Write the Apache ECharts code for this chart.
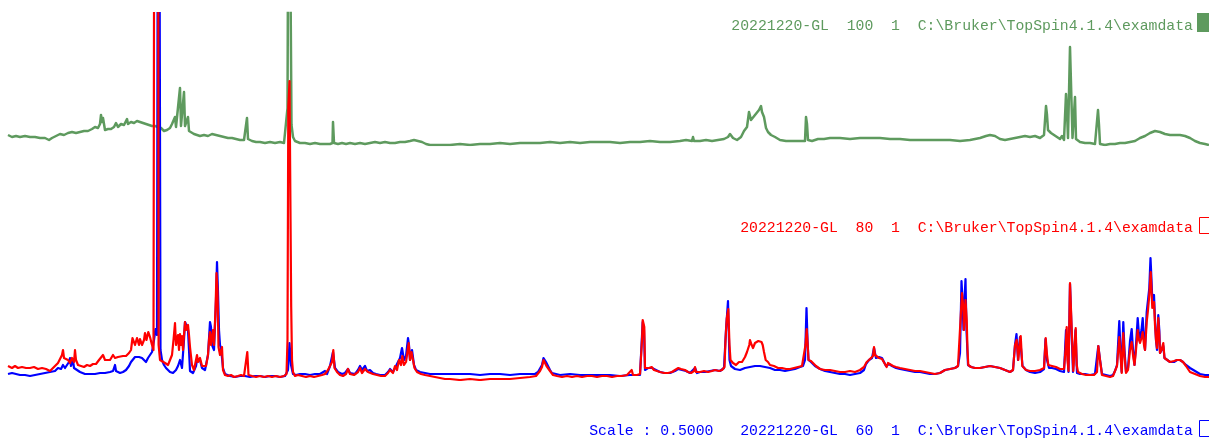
<!DOCTYPE html>
<html>
<head>
<meta charset="utf-8">
<script src="https://cdn.jsdelivr.net/npm/echarts@6/dist/echarts.min.js"></script>
<style>
html,body{margin:0;padding:0;background:#fff;}
#chart{width:1209px;height:439px;}
</style>
</head>
<body>
<div id="chart"></div>
<script>
// Stacked 1H spectra: experiment 100 (top), experiments 80 and 60 overlaid (bottom).
// Each point is [position along the shift axis, intensity in arbitrary units].

const exp100 = [
[8,10],[12,8],[16,9],[20,8],[25,9],[30,8],[35,8],[40,7],[45,7],[49,5],[52,7],[56,9],[60,11],[64,10],[68,12],[72,13],[76,12],[80,13],[84,14],[88,14],[92,16],[95,18],[98,17],[100,21],[101,30],[102,23],[103,27],[105,15],[108,16],[111,16],[114,18],[116,22],[118,18],[121,21],[124,20],[127,26],[128,21],[131,23],[134,22],[137,24],[140,23],[143,22],[146,21],[149,20],[152,19],[155,19],[158,18],[161,17],[164,14],[167,15],[170,17],[172,21],[174,19],[175,28],[176,18],[178,17],[180,57],[181,19],[183,18],[184,53],[185,19],[187,17],[188,28],[189,14],[191,12],[194,11],[197,10],[200,9],[204,10],[208,9],[212,11],[216,10],[220,9],[224,8],[228,7],[232,7],[236,6],[240,5],[244,5],[246,6],[247,27],[248,6],[252,4],[256,3],[260,3],[265,2],[270,3],[275,2],[280,3],[284,2],[286,1],[287.5,37],[288.8,400],[290.4,400],[291.5,20],[293,8],[295,4],[300,2],[305,2],[310,1],[315,2],[320,1],[325,1],[330,1],[332.5,2],[333,23],[334,2],[338,1],[342,2],[346,1],[350,2],[355,1],[360,2],[365,1],[370,2],[375,3],[380,2],[385,3],[390,2],[395,2],[400,3],[405,3],[410,4],[414,5],[418,4],[422,3],[426,1],[430,0],[440,0],[450,0],[460,1],[470,0],[480,1],[490,1],[500,2],[510,1],[520,2],[530,2],[540,2],[550,3],[560,2],[570,3],[580,2],[590,3],[600,3],[610,3],[620,2],[630,3],[640,3],[650,4],[660,3],[670,3],[680,4],[686,5],[692,4],[693,8],[694,4],[700,4],[706,5],[712,4],[718,5],[724,6],[728,8],[730,11],[733,7],[737,5],[741,8],[744,14],[747,18],[749,33],[751,25],[753,27],[755,30],[757,32],[759,35],[761,39],[762,33],[764,28],[766,17],[768,13],[771,10],[775,8],[780,5],[786,4],[792,4],[800,4],[805,4],[806,28],[807,21],[808,5],[812,4],[818,6],[824,6],[830,7],[840,7],[850,6],[860,7],[870,7],[880,7],[890,6],[900,6],[910,5],[920,5],[930,5],[940,5],[950,5],[960,4],[970,5],[980,7],[986,9],[990,10],[995,9],[1000,6],[1005,5],[1010,6],[1015,7],[1020,8],[1025,9],[1030,8],[1035,9],[1040,7],[1044,10],[1046,39],[1047,30],[1048,15],[1051,12],[1054,10],[1057,8],[1060,6],[1062,9],[1064,5],[1066,51],[1067,33],[1068,7],[1070,98],[1071.5,98],[1072.5,7],[1075,48],[1076,6],[1078,5],[1080,3],[1085,2],[1090,2],[1095,1],[1098,35],[1099,20],[1100,1],[1105,0],[1110,1],[1115,1],[1120,2],[1125,2],[1130,3],[1135,4],[1140,7],[1145,9],[1150,12],[1155,14],[1160,13],[1165,11],[1170,10],[1175,10],[1180,10],[1185,9],[1190,7],[1195,4],[1200,2],[1205,1],[1209,0]
];

const exp60 = [
[8,6],[12,7],[16,6],[20,5],[25,5],[30,4],[35,5],[40,6],[45,7],[50,8],[55,9],[58,12],[61,11],[63,15],[65,12],[67,14],[69,18],[70,22],[71,14],[73,20],[74,12],[76,10],[80,8],[85,6],[90,6],[95,6],[100,7],[105,7],[110,8],[113,9],[115,15],[116,9],[120,7],[123,8],[126,10],[129,14],[131,18],[133,20],[135,23],[137,24],[139,23],[140,24],[142,22],[144,20],[146,18],[148,22],[150,24],[152,28],[154,40],[155.5,51],[157,45],[158.5,900],[159.8,900],[160.5,30],[162,20],[164,15],[166,12],[168,10],[170,8],[173,7],[176,10],[178,14],[180,20],[182,12],[184,40],[185,58],[186,56],[187,58],[188,50],[189,30],[190,9],[193,7],[196,14],[197,20],[199,18],[200,20],[202,12],[205,10],[208,25],[210,58],[211,53],[212,35],[214,30],[216,80],[217,118],[218,88],[219,50],[220,35],[221,32],[222,33],[223,12],[225,6],[230,4],[235,3],[240,4],[245,4],[250,3],[255,4],[260,4],[265,3],[270,4],[275,4],[280,3],[285,4],[288,10],[289.5,37],[291,15],[293,6],[296,5],[300,6],[305,6],[310,5],[315,6],[320,6],[325,9],[327,6],[330,14],[332,12],[333,28],[335,12],[338,8],[342,6],[345,7],[348,11],[350,7],[355,6],[358,10],[360,14],[362,10],[365,14],[367,9],[370,10],[373,7],[376,6],[380,5],[385,5],[388,8],[390,11],[393,8],[395,12],[398,18],[400,22],[402,32],[404,20],[406,24],[408,42],[409,35],[410,20],[412,30],[413,30],[414,15],[416,10],[420,8],[425,7],[430,6],[435,6],[440,6],[450,6],[460,6],[470,6],[480,5],[490,6],[500,6],[510,5],[520,6],[530,6],[535,6],[538,8],[540,10],[542,15],[543.5,22],[545,24],[546,18],[548,17],[550,10],[552,7],[556,6],[560,5],[570,6],[580,5],[590,5],[600,5],[610,5],[620,4],[630,5],[640,5],[642.7,58],[644,50],[645,10],[648,12],[652,12],[656,10],[660,8],[665,7],[670,7],[675,9],[678,11],[682,10],[686,9],[690,7],[695,12],[697,7],[700,8],[705,8],[710,9],[715,10],[720,9],[724,12],[726,50],[728,79],[729.5,20],[731,14],[735,11],[740,10],[745,12],[750,13],[755,14],[760,14],[765,13],[770,12],[775,10],[780,10],[785,9],[790,10],[795,11],[800,13],[803,14],[805,20],[806.5,72],[807.5,40],[808.5,20],[811,18],[815,14],[820,11],[825,9],[830,8],[835,7],[840,6],[845,6],[850,5],[855,6],[860,7],[864,10],[866,16],[869,20],[872,22],[874,32],[876,22],[879,23],[882,22],[884,22],[886,14],[889,16],[892,14],[896,12],[900,11],[905,10],[910,9],[915,8],[920,8],[925,7],[930,6],[935,6],[940,7],[945,10],[950,11],[955,12],[958,14],[960,27],[961.5,99],[962.5,80],[963.5,50],[964.5,80],[965.5,101],[966.5,50],[968,15],[971,13],[975,12],[980,12],[985,13],[990,14],[995,13],[1000,12],[1005,10],[1010,8],[1013,10],[1015,35],[1016.5,46],[1018,20],[1020,43],[1021,44],[1022.5,14],[1026,10],[1030,8],[1035,7],[1040,8],[1044,11],[1045.5,41],[1047,20],[1049,12],[1052,12],[1056,11],[1060,9],[1064,8],[1066,50],[1067,35],[1068.5,8],[1070,96],[1071.5,97],[1073,8],[1075.5,50],[1077,7],[1080,6],[1085,6],[1090,5],[1095,6],[1097,8],[1098.3,34],[1100,20],[1102,6],[1106,5],[1110,4],[1113,5],[1115,9],[1117,15],[1119.3,59],[1120.5,30],[1121.7,8],[1123.3,58],[1124.5,30],[1126,8],[1128,12],[1130,39],[1131.7,51],[1133,30],[1134.5,15],[1136,35],[1137.7,62],[1139,45],[1140,42],[1141.5,50],[1142.7,62],[1144,40],[1145,30],[1146.7,68],[1148,80],[1149.3,92],[1150.5,122],[1151.5,100],[1152.3,80],[1154,85],[1155,60],[1156,40],[1157,30],[1158.3,65],[1159.3,50],[1160,27],[1161.5,30],[1163.3,34],[1164.5,22],[1166,20],[1170,18],[1174,18],[1177,20],[1180,20],[1183,18],[1186,15],[1190,12],[1195,9],[1200,6],[1205,5],[1209,5]
];

const exp80 = [
[8,14],[12,12],[15,14],[18,12],[22,13],[26,12],[30,12],[34,13],[38,11],[42,12],[46,11],[50,9],[53,12],[55,14],[58,17],[60,19],[62,25],[63,30],[64,22],[66,24],[68,20],[70,17],[72,22],[74,18],[75,30],[76,20],[78,15],[81,14],[84,13],[87,15],[90,14],[93,16],[96,16],[99,20],[101,22],[103,25],[105,20],[107,22],[110,20],[113,25],[115,22],[118,23],[120,22],[123,24],[126,24],[129,27],[131,30],[132.5,42],[133.5,44],[135,35],[137,42],[139,35],[140,41],[142,35],[144,40],[145,47],[146.5,40],[148.3,48],[150,43],[152,35],[153.5,30],[154.8,900],[157.8,900],[158.6,35],[160,20],[162,18],[165,17],[168,15],[170,16],[172,25],[173.5,40],[175,57],[176,35],[178,45],[179,30],[180,46],[181,35],[182,44],[183,30],[184,45],[185,58],[186,50],[187,52],[188,55],[189,45],[190,33],[192,15],[194,10],[196,20],[197,25],[198,18],[200,22],[202,14],[204,12],[206,14],[208,25],[209,40],[210,48],[211,35],[212,42],[213,50],[214,35],[215.5,70],[216.5,107],[217.5,90],[218.5,33],[220,25],[222,33],[223,10],[225,5],[228,4],[231,5],[234,3],[236,2],[238,4],[241,5],[244,4],[246,5],[247.3,28],[248.5,5],[252,4],[256,3],[260,4],[264,3],[268,4],[272,3],[276,4],[280,3],[284,4],[286.5,6],[287.5,40],[288.3,273],[289.5,299],[290.5,298],[291.2,73],[292,20],[293,8],[295,4],[298,5],[302,4],[306,3],[310,4],[314,3],[318,4],[322,5],[325,6],[328,10],[330,14],[332,18],[333.3,30],[334.5,12],[337,8],[340,5],[343,4],[346,6],[348,11],[350,6],[354,5],[358,8],[360,12],[362,7],[365,11],[368,8],[370,10],[373,6],[377,5],[381,4],[385,4],[388,7],[390,10],[393,7],[395,14],[397,10],[399,20],[401,15],[402.3,24],[404,15],[406,18],[408.7,37],[410,20],[411.5,28],[413,30],[414.5,12],[417,8],[421,6],[425,5],[430,4],[435,3],[440,2],[445,1],[450,1],[460,0],[470,1],[480,0],[490,1],[500,1],[510,1],[520,2],[530,3],[536,4],[540,9],[542,13],[543.5,20],[545,18],[546.5,14],[548,15],[550,9],[553,5],[557,4],[562,3],[567,4],[572,3],[577,4],[582,3],[587,4],[592,4],[597,3],[602,4],[607,4],[612,3],[617,4],[622,4],[627,5],[631.7,10],[633,5],[637,5],[640,6],[642,40],[642.7,60],[644.3,53],[645,12],[647,14],[649,12],[651.7,13],[654,10],[657,9],[660,8],[664,7],[668,7],[672,8],[675,10],[678.3,12],[681,11],[685,10],[688,8],[691,7],[694,9],[695,13],[696,8],[700,8],[704,9],[708,8],[712,9],[715,10],[719,9],[722,10],[724.5,13],[725.5,40],[726.7,61],[728.3,71],[729.5,35],[730.5,20],[733,17],[736,15],[739,18],[742,18],[745,23],[747,28],[748.3,32],[749.3,35],[750,40],[751.7,35],[753,32],[755,37],[757,35],[758.3,39],[760,41],[761.5,38],[762.7,35],[764,28],[765.7,20],[768,18],[770,15],[774,14],[778,12],[782,12],[786,11],[790,11],[794,12],[798,13],[802,14],[804,15],[805.5,35],[806.7,51],[807.7,35],[808.5,20],[811,19],[813,17],[816,14],[820,11],[825,10],[830,10],[835,9],[840,8],[845,8],[850,9],[855,8],[860,10],[864,13],[866.7,18],[869,20],[871,19],[873,24],[874,33],[875,25],[876.7,23],[879,22],[880,24],[882,21],[884,23],[886.7,13],[888,17],[890,17],[893,14],[896,13],[900,12],[905,11],[910,10],[915,9],[920,9],[925,8],[930,7],[935,6],[940,7],[945,10],[950,11],[955,12],[958,14],[960,15],[961.3,74],[962,87],[963.3,73],[964,50],[965.5,80],[966.7,60],[967.5,30],[968.3,15],[971,13],[975,12],[980,12],[985,13],[990,14],[995,13],[1000,12],[1005,10],[1010,8],[1013,10],[1015,35],[1016.7,40],[1018.3,20],[1020,40],[1020.7,44],[1022.3,14],[1026,10],[1030,9],[1035,9],[1040,10],[1044,12],[1045.7,42],[1047,25],[1048.3,15],[1052,14],[1056,13],[1060,11],[1064,11],[1065.5,30],[1066.7,53],[1067.5,20],[1068.5,9],[1070,97],[1071.7,98],[1073.3,9],[1074.5,30],[1075.7,52],[1076.7,15],[1078,8],[1082,6],[1086,5],[1090,5],[1094,5],[1097,8],[1098.3,34],[1100,20],[1102,5],[1106,4],[1110,3],[1113,4],[1115,9],[1117,14],[1119.3,43],[1120.5,25],[1121.7,7],[1123.3,47],[1124.5,25],[1126,7],[1128,10],[1130,30],[1131.7,38],[1133,25],[1134.5,15],[1136,30],[1137.7,50],[1139,40],[1140,37],[1141.5,42],[1142.7,48],[1144,35],[1145,30],[1146.7,58],[1148,70],[1149.3,85],[1150.7,108],[1151.5,90],[1152.3,72],[1154,78],[1155,55],[1156,40],[1157,32],[1158.3,62],[1159.3,45],[1160,27],[1161.5,30],[1163.3,37],[1164.5,22],[1166,20],[1170,18],[1174,19],[1177,20],[1180,20],[1183,18],[1186,14],[1190,8],[1195,6],[1200,4],[1205,3],[1209,3]
];

// Title lines shown at the right edge of each trace
const titleExp100 = '20221220-GL  100  1  C:\\Bruker\\TopSpin4.1.4\\examdata';
const titleExp80 = '20221220-GL  80  1  C:\\Bruker\\TopSpin4.1.4\\examdata';
const titleExp60 = 'Scale : 0.5000   20221220-GL  60  1  C:\\Bruker\\TopSpin4.1.4\\examdata';

const GREEN = '#5e9a5e';
const RED = '#ff0000';
const BLUE = '#0000ff';
const FONT = '"Liberation Mono", "DejaVu Sans Mono", monospace';
const TITLE_FONT = '14.8px ' + FONT;

const chart = echarts.init(document.getElementById('chart'), null, {renderer: 'canvas'});

function trace(name, data, color, idx, width) {
  return {
    name: name, type: 'line', data: data,
    xAxisIndex: idx, yAxisIndex: idx,
    showSymbol: false, symbol: 'none',
    lineStyle: {color: color, width: width, join: 'round'},
    silent: true, clip: true, animation: false
  };
}

chart.setOption({
  animation: false,
  backgroundColor: '#ffffff',
  grid: [
    {left: 8, right: 0, top: 13, bottom: 294},
    {left: 8, right: 0, top: 13, bottom: 59}
  ],
  xAxis: [
    {type: 'value', gridIndex: 0, min: 8, max: 1209, show: false},
    {type: 'value', gridIndex: 1, min: 8, max: 1209, show: false}
  ],
  yAxis: [
    {type: 'value', gridIndex: 0, min: 0, max: 132, show: false},
    {type: 'value', gridIndex: 1, min: 0, max: 367, show: false}
  ],
  series: [
    trace('100', exp100, GREEN, 0, 2.5),
    trace('60', exp60, BLUE, 1, 2.2),
    trace('80', exp80, RED, 1, 2.2)
  ],
  graphic: [
    {type: 'text', right: 16, top: 19, style: {text: titleExp100, fill: GREEN, font: TITLE_FONT}},
    {type: 'rect', left: 1197, top: 13, shape: {width: 14, height: 19}, style: {fill: GREEN}},
    {type: 'text', right: 16, top: 221, style: {text: titleExp80, fill: RED, font: TITLE_FONT}},
    {type: 'rect', left: 1197, top: 215, shape: {width: 14, height: 16}, style: {fill: 'none', stroke: RED, lineWidth: 1}},
    {type: 'text', right: 16, top: 424, style: {text: titleExp60, fill: BLUE, font: TITLE_FONT}},
    {type: 'rect', left: 1197, top: 418, shape: {width: 14, height: 16}, style: {fill: 'none', stroke: BLUE, lineWidth: 1}}
  ]
});
</script>
</body>
</html>
